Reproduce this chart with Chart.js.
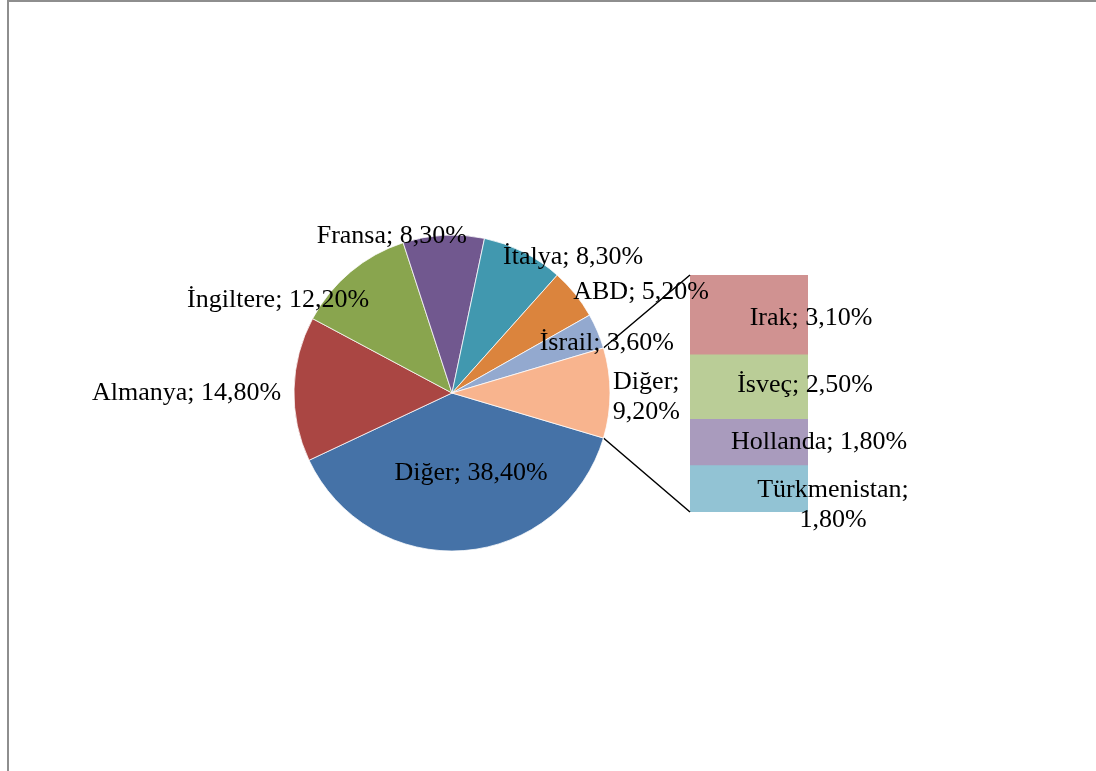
<!DOCTYPE html>
<html>
<head>
<meta charset="utf-8">
<script src="https://cdn.jsdelivr.net/npm/chart.js@4.4.1/dist/chart.umd.min.js"></script>
<style>
  html, body { margin: 0; padding: 0; background: #fff; }
  #wrap { position: relative; width: 1096px; height: 771px; overflow: hidden; }
  #frame {
    position: absolute; left: 7px; top: 0; width: 1200px; height: 900px;
    border-top: 2px solid #8e8e8e; border-left: 2px solid #8e8e8e;
  }
  canvas { position: absolute; left: 0; top: 0; }
</style>
</head>
<body>
<div id="wrap">
  <div id="frame"></div>
  <canvas id="barChart" width="1096" height="771"></canvas>
  <canvas id="pieChart" width="1096" height="771"></canvas>
</div>
<script>
// Pie data (clockwise, starting under the split-off slice)
const pieLabels = ["Diğer", "Almanya", "İngiltere", "Fransa", "İtalya", "ABD", "İsrail", "Diğer"];
const pieValues = [38.4, 14.8, 12.2, 8.3, 8.3, 5.2, 3.6, 9.2];

// Bar data, bottom to top
const barLabels = ["Türkmenistan", "Hollanda", "İsveç", "Irak"];
const barValues = [1.8, 1.8, 2.5, 3.1];

const pieColors = ["#4572A7", "#AA4643", "#89A54E", "#71588F", "#4198AF", "#DB843D", "#93A9CF", "#F8B48E"];
const barColors = ["#92C3D4", "#A99BBD", "#BACD97", "#D09291"];

// label placement: angle from 12 o'clock (deg) and radius factor
const pieLabelAngle = [166.6, 270, 298.1, 339, 41.7, 61.9, 72.1, 91.2];
const pieLabelRadius = [0.52, 1.68, 1.248, 1.063, 1.152, 1.357, 1.03, 1.23];
const pieLabelWrap = [false, false, false, false, false, false, false, true];
const barLabelDx = [84, 70, 56, 62];
const barLabelDy = [16, 0, -2, 3];
const barLabelWrap = [true, false, false, false];

const FONT = "26px 'Liberation Serif', 'Times New Roman', serif";

function fmt(label, value) {
  return label + "; " + value.toFixed(2).replace(".", ",") + "%";
}

function drawLabel(ctx, text, x, y, wrap) {
  const lines = wrap ? text.split(" ") : [text];
  ctx.save();
  ctx.font = FONT;
  ctx.fillStyle = "#000";
  ctx.textAlign = "center";
  ctx.textBaseline = "middle";
  const lh = 30;
  const y0 = y - (lines.length - 1) * lh / 2;
  lines.forEach((l, i) => ctx.fillText(l, x, y0 + i * lh));
  ctx.restore();
}

const pieLabelPlugin = {
  id: "pieLabels",
  afterDatasetsDraw(chart) {
    const ctx = chart.ctx;
    chart.getDatasetMeta(0).data.forEach((arc, i) => {
      const a = (pieLabelAngle[i] - 90) * Math.PI / 180;
      const r = arc.outerRadius * pieLabelRadius[i];
      drawLabel(ctx, fmt(pieLabels[i], pieValues[i]),
        arc.x + r * Math.cos(a), arc.y + r * Math.sin(a), pieLabelWrap[i]);
    });
  },
};

const splitValue = pieValues[pieValues.length - 1];

const pieChart = new Chart(document.getElementById("pieChart"), {
  type: "pie",
  data: {
    labels: pieLabels,
    datasets: [{
      data: pieValues,
      backgroundColor: pieColors,
      borderColor: "#ffffff",
      borderWidth: 0.75,
    }],
  },
  options: {
    responsive: false,
    animation: false,
    rotation: 90 + splitValue * 3.6 / 2,
    radius: 158,
    layout: { padding: { left: 294, right: 486, top: 235, bottom: 220 } },
    plugins: { legend: { display: false }, tooltip: { enabled: false } },
  },
  plugins: [pieLabelPlugin],
});

const barLabelPlugin = {
  id: "barLabels",
  afterDatasetsDraw(chart) {
    const ctx = chart.ctx;
    chart.data.datasets.forEach((ds, i) => {
      const bar = chart.getDatasetMeta(i).data[0];
      drawLabel(ctx, fmt(barLabels[i], barValues[i]),
        bar.x + barLabelDx[i], (bar.y + bar.base) / 2 + barLabelDy[i], barLabelWrap[i]);
    });
  },
  afterDraw(chart) {
    // connector lines from the split slice to the bar
    const arc = pieChart.getDatasetMeta(0).data[pieValues.length - 1];
    const R = arc.outerRadius;
    const area = chart.chartArea;
    const ctx = chart.ctx;
    ctx.save();
    ctx.strokeStyle = "#000";
    ctx.lineWidth = 1.5;
    ctx.beginPath();
    ctx.moveTo(arc.x + R * Math.cos(arc.startAngle), arc.y + R * Math.sin(arc.startAngle));
    ctx.lineTo(area.left, area.top);
    ctx.moveTo(arc.x + R * Math.cos(arc.endAngle), arc.y + R * Math.sin(arc.endAngle));
    ctx.lineTo(area.left, area.bottom);
    ctx.stroke();
    ctx.restore();
  },
};

new Chart(document.getElementById("barChart"), {
  type: "bar",
  data: {
    labels: ["Diğer"],
    datasets: barLabels.map((l, i) => ({
      label: l,
      data: [barValues[i]],
      backgroundColor: barColors[i],
      borderWidth: 0,
      categoryPercentage: 1,
      barPercentage: 1,
    })),
  },
  options: {
    responsive: false,
    animation: false,
    layout: { padding: { left: 690, right: 288, top: 275, bottom: 259 } },
    scales: {
      x: { stacked: true, display: false },
      y: { stacked: true, display: false, min: 0, max: barValues.reduce((a, b) => a + b, 0) },
    },
    plugins: { legend: { display: false }, tooltip: { enabled: false } },
  },
  plugins: [barLabelPlugin],
});
</script>
</body>
</html>
